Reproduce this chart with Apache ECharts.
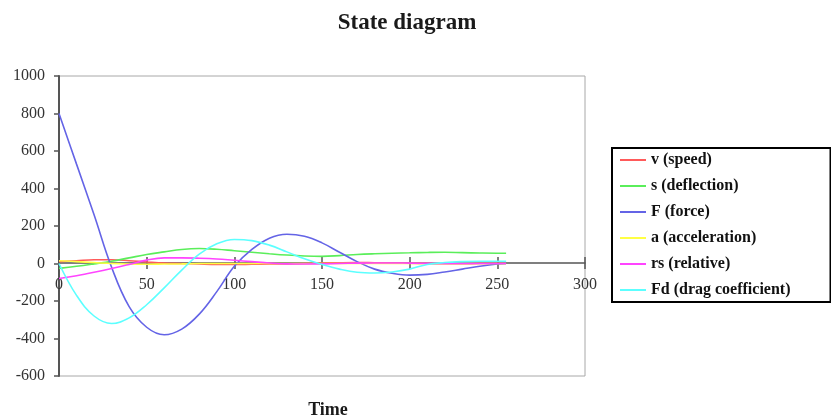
<!DOCTYPE html>
<html><head><meta charset="utf-8">
<script src="https://cdn.jsdelivr.net/npm/echarts@6/dist/echarts.min.js"></script>
<style>html,body{margin:0;padding:0;background:#fff}#c{width:831px;height:415px}</style>
</head><body><div id="c"></div>
<script>
var times = [0,10,20,30,40,50,60,70,80,90,100,110,120,130,140,150,160,170,180,190,200,210,220,230,240,250,255];
var vSpeed = [10,15,20,20,15,8,2,0,-3,-5,-5,-4,-3,-2,0,2,4,5,4,3,1,0,-1,-1,0,0,0];
var sDefl = [-26,-15,-2,12,30,48,62,75,80,76,68,60,52,45,40,38,42,48,52,55,57,59,60,58,56,55,55];
var fForce = [800,530,260,-20,-230,-340,-380,-350,-270,-150,-15,75,135,156,145,110,60,10,-30,-52,-62,-58,-45,-30,-15,-3,0];
var aAcc = [15,10,5,0,-3,-4,-3,-2,0,0,0,0,0,0,0,0,0,0,0,0,0,0,0,0,0,0,0];
var rsRel = [-80,-65,-47,-27,-5,18,30,30,28,24,17,10,3,-2,-3,-2,0,2,3,3,2,1,0,0,0,0,0];
var fdDrag = [0,-170,-280,-320,-290,-220,-130,-35,50,105,128,122,98,62,25,-5,-30,-47,-51,-45,-30,-5,5,10,12,12,12];
var xTicks = [0,50,100,150,200,250,300];
var yTicks = [-600,-400,-200,0,200,400,600,800,1000];

var names = ['v (speed)','s (deflection)','F (force)','a (acceleration)','rs (relative)','Fd (drag coefficient)'];
var colors = ['#ff5a5a','#5aee5a','#6464e6','#ffff44','#ff44ff','#5cffff'];
var all = [vSpeed,sDefl,fForce,aAcc,rsRel,fdDrag];
var font = 'Liberation Serif';

var series = all.map(function(arr,i){
  return {
    name: names[i], type:'line', smooth:0.4, showSymbol:false, symbol:'none',
    lineStyle:{color:colors[i], width:1.6}, itemStyle:{color:colors[i]},
    data: arr.map(function(v,j){return [times[j], v];})
  };
});

var chart = echarts.init(document.getElementById('c'));
chart.setOption({
  animation:false,
  backgroundColor:'#fff',
  title:[
    {text:'State diagram', left:402, top:7, textAlign:'center',
     textStyle:{fontFamily:font, fontWeight:'bold', fontSize:23, color:'#1a1a1a'}},
    {text:'Time', left:323, top:396, textAlign:'center',
     textStyle:{fontFamily:font, fontWeight:'bold', fontSize:18, color:'#1a1a1a'}}
  ],
  legend:{
    orient:'vertical', left:612, top:148, data:names,
    icon:'rect', itemWidth:26, itemHeight:2, itemGap:10,
    borderColor:'#000', borderWidth:2, padding:[4,40,4,8],
    textStyle:{fontFamily:font, fontWeight:'bold', fontSize:16, color:'#111', padding:[0,0,0,0]}
  },
  grid:{left:59, right:246, top:76, bottom:39, show:true, borderColor:'#a8a8a8', borderWidth:1},
  xAxis:[{
    type:'value', min:0, max:300, interval:50,
    axisLine:{onZero:false, lineStyle:{color:'#555', width:1.5}},
    offset:-113,
    axisTick:{show:true, length:6, lineStyle:{color:'#555', width:1.5}},
    axisLabel:{fontFamily:font, fontSize:16, color:'#333', margin:14},
    splitLine:{show:false}
  },{
    type:'value', min:0, max:300, interval:50, position:'bottom',
    axisLine:{onZero:false, show:false},
    offset:-113,
    axisTick:{show:true, inside:true, length:6, lineStyle:{color:'#555', width:1.5}},
    axisLabel:{show:false}, splitLine:{show:false}
  }],
  yAxis:{
    type:'value', min:-600, max:1000, interval:200,
    axisLine:{show:true, lineStyle:{color:'#555', width:2}},
    axisTick:{show:true, length:5, lineStyle:{color:'#555', width:1.5}},
    axisLabel:{fontFamily:font, fontSize:16, color:'#333', margin:14,
      formatter:function(v){return String(v);}},
    splitLine:{show:false}
  },
  series: series
});
</script></body></html>
